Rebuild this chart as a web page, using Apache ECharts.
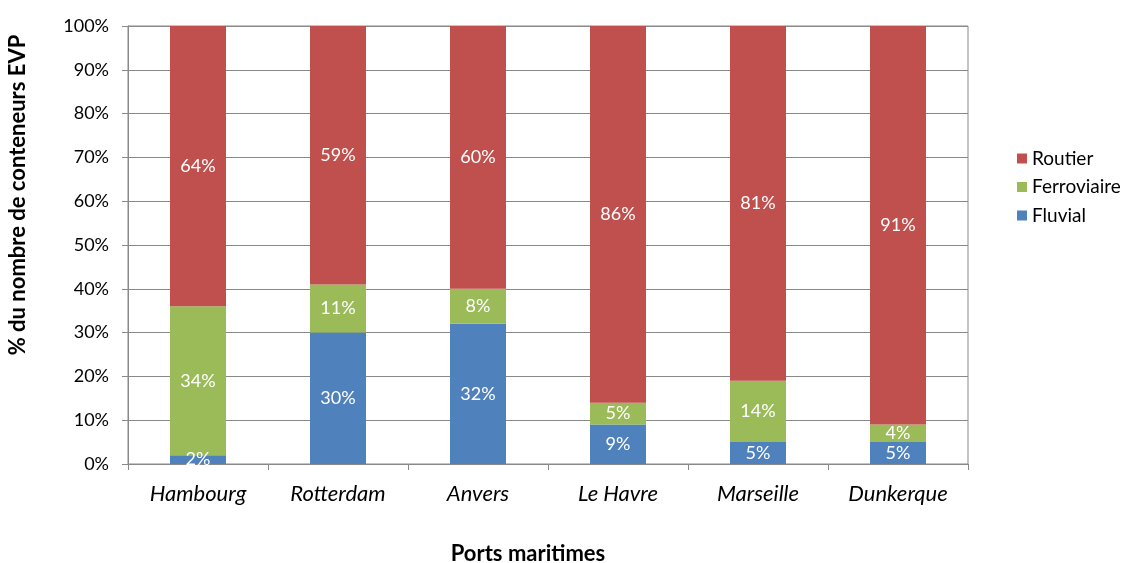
<!DOCTYPE html>
<html><head><meta charset="utf-8">
<script src="https://cdn.jsdelivr.net/npm/echarts@6/dist/echarts.min.js"></script>
<style>html,body{margin:0;padding:0;background:#fff}#c{width:1123px;height:563px}</style>
</head><body><div id="c"></div>
<script>
const categories = ['Hambourg','Rotterdam','Anvers','Le Havre','Marseille','Dunkerque'];
const fluvial = [2,30,32,9,5,5];
const ferroviaire = [34,11,8,5,14,4];
const routier = [64,59,60,86,81,91];
const yTicks = [0,10,20,30,40,50,60,70,80,90,100];

const FONT = 'Lato';
const chart = echarts.init(document.getElementById('c'));
const lbl = {show:true, position:'inside', color:'#fff', fontFamily:FONT, fontSize:18, formatter: p => p.value + '%'};
function s(name, data, color){
  return {name, type:'bar', stack:'t', data, barWidth:56, itemStyle:{color}, label:lbl};
}
chart.setOption({
  animation:false,
  grid:{left:128, right:155, top:26, bottom:99, show:true, borderColor:'#898989', borderWidth:1, outerBoundsMode:'none', containLabel:false},
  legend:{orient:'vertical', left:1012, top:144, itemWidth:10, itemHeight:10, itemGap:9.5,
    data:['Routier','Ferroviaire','Fluvial'], icon:'rect',
    textStyle:{fontFamily:FONT, fontSize:19, color:'#000'}},
  xAxis:{type:'category', data:categories, name:'Ports maritimes', nameLocation:'middle', nameGap:79,
    nameTextStyle:{fontFamily:FONT, fontSize:22, fontWeight:'bold', color:'#000', padding:[0,40,0,0]},
    axisLine:{lineStyle:{color:'#898989'}}, axisTick:{show:true, length:6, alignWithLabel:false, lineStyle:{color:'#898989'}},
    axisLabel:{fontFamily:FONT, fontSize:22, fontStyle:'italic', color:'#000', margin:19}},
  yAxis:{type:'value', min:0, max:100, interval:10,
    name:'% du nombre de conteneurs EVP', nameLocation:'middle', nameGap:99, nameRotate:90,
    nameTextStyle:{fontFamily:FONT, fontSize:22, fontWeight:'bold', color:'#000', padding:[0,0,0,100]},
    axisLine:{show:true, lineStyle:{color:'#898989'}}, axisTick:{show:true, length:6, lineStyle:{color:'#898989'}},
    splitLine:{lineStyle:{color:'#898989'}},
    axisLabel:{fontFamily:FONT, fontSize:18, color:'#000', margin:19,
      formatter: v => yTicks.includes(v) ? v + '%' : ''}},
  series:[s('Fluvial', fluvial, '#4F81BD'), s('Ferroviaire', ferroviaire, '#9BBB59'), s('Routier', routier, '#C0504D')]
});
</script></body></html>
